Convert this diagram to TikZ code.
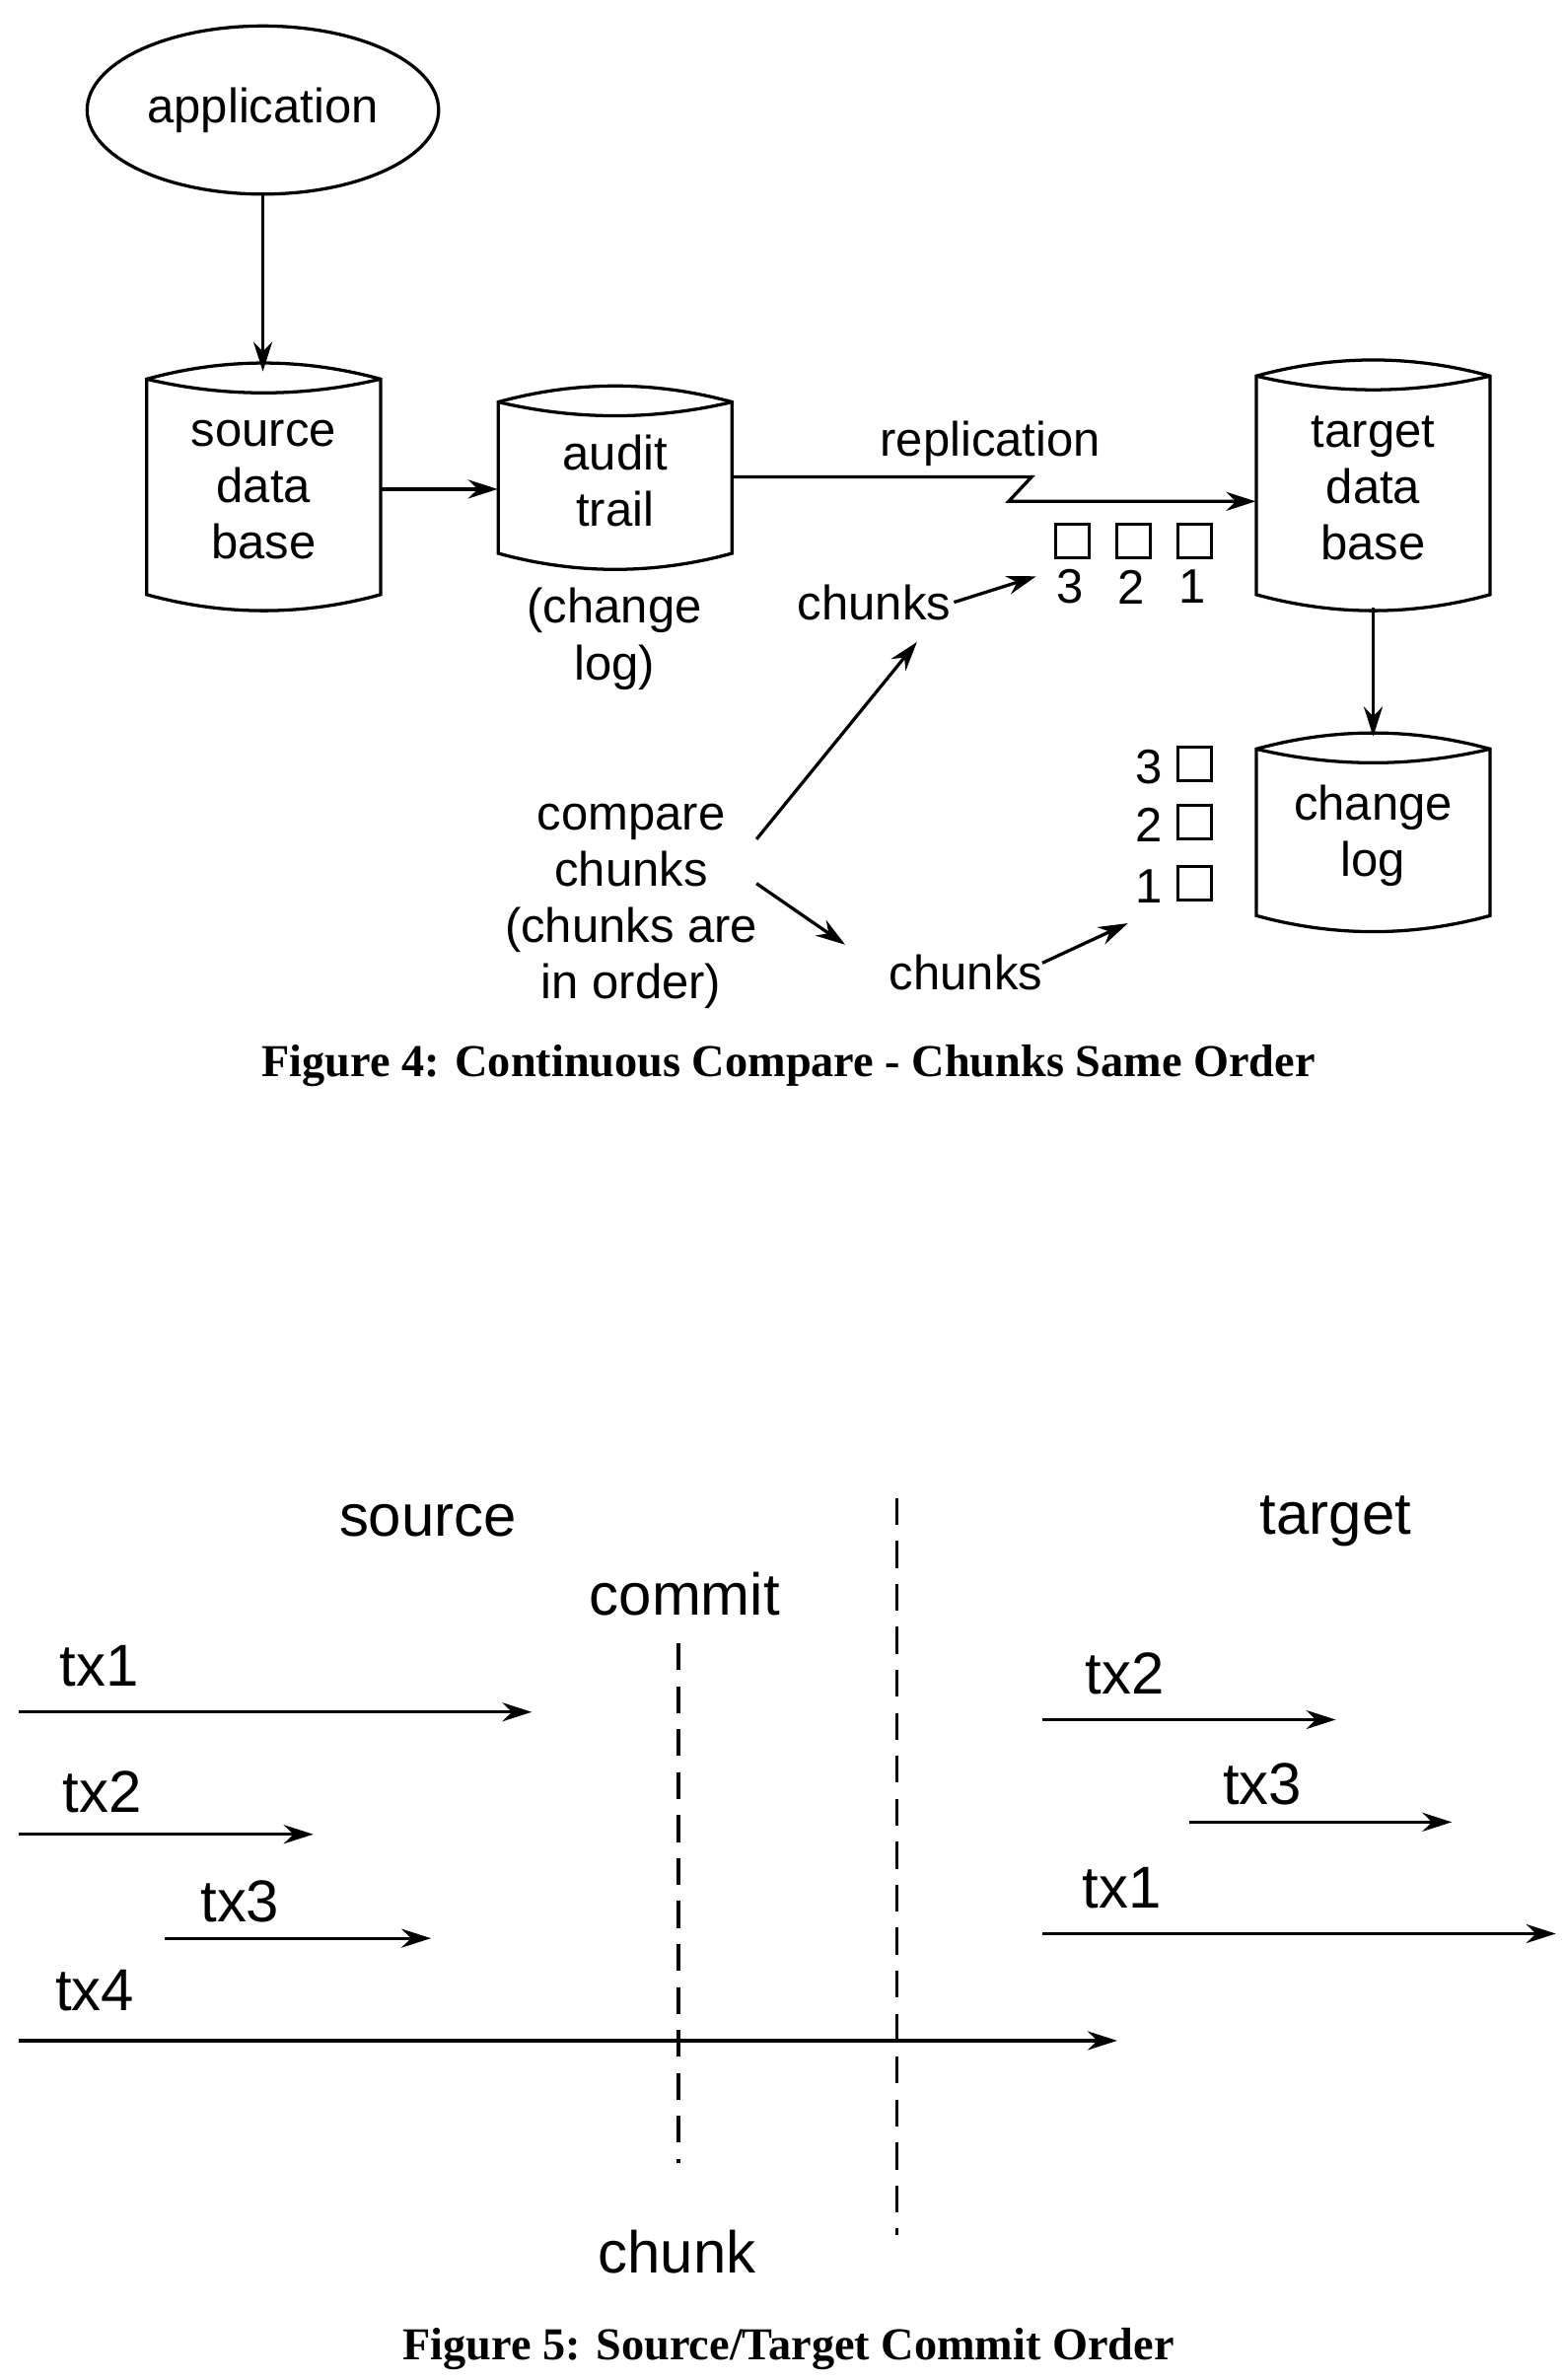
\documentclass[tikz,border=0pt]{standalone}
\usepackage{fontspec}
\setmainfont{Liberation Sans}
\newfontfamily\capfont{Liberation Serif}
\usetikzlibrary{arrows.meta,shapes.geometric}
\tikzset{
 lbl/.style={font=\fontsize{18}{21}\selectfont, align=center, inner sep=1pt},
 big/.style={font=\fontsize{22}{25}\selectfont, inner sep=1pt},
 figcap/.style={font=\capfont\bfseries\fontsize{17}{20}\selectfont},
 arr/.style={-{Stealth[length=11pt,width=7pt]}, line width=1.2pt},
 box/.style={draw, line width=1.1pt, minimum size=12.5pt, inner sep=0pt},
 cylbox/.style={draw=none, inner sep=0pt},
 ln/.style={line width=1.2pt},
 dsh/.style={line width=1.2pt, dash pattern=on 10pt off 6pt}
}
% #1 name, #2 left, #3 top, #4 right, #5 bottom, #6 text
\newcommand\mycyl[6]{%
 \draw[ln] (#2,#3+8) .. controls ({#2+(#4-#2)/3},#3-6) and ({#4-(#4-#2)/3},#3-6) .. (#4,#3+8)
   -- (#4,#5-8) .. controls ({#4-(#4-#2)/3},#5+6) and ({#2+(#4-#2)/3},#5+6) .. (#2,#5-8) -- cycle;
 \draw[ln] (#2,#3+8) .. controls ({#2+(#4-#2)/3},#3+20) and ({#4-(#4-#2)/3},#3+20) .. (#4,#3+8);
 \node[cylbox, lbl, minimum width={(#4-#2)*0.02cm}, minimum height={(#5-#3)*0.02cm}] (#1) at ({(#2+#4)/2},{(#3+#5)/2}) {};
 \node[lbl] (#1t) at ({(#2+#4)/2},{(#3+#5)/2+2}) {#6};}
\begin{document}
\begin{tikzpicture}[x=0.02cm,y=-0.02cm]
\useasboundingbox (0,0) rectangle (1024,1557);
% Figure 4
\node[draw, ellipse, line width=1.2pt, minimum width=230*0.02cm, minimum height=110*0.02cm, lbl] (app) at (172,72) {application};
\mycyl{src}{96}{240}{249}{397}{source\\data\\base}
\mycyl{aud}{326}{255}{479}{370}{audit\\trail}
\mycyl{tgt}{822}{238}{975}{397}{target\\data\\base}
\mycyl{clog}{822}{482}{975}{607}{change\\log}
\node[lbl] (cl) at (402,418) {(change\\log)};
\draw[arr] (app.south) -- (172,243);
\draw[arr] (src.east|-0,320) -- (aud.west|-0,320);
\draw[arr] (tgt.south) -- (clog.north);
\node[lbl] (rep) at (648,290) {replication};
\coordinate (z1) at (675,312); \coordinate (z2) at (660,328);
\draw[arr] (aud.east|-0,312) -- (z1) -- (z2) -- (tgt.west|-0,328);
\foreach \x/\n in {702/3,742/2,782/1}{
 \node[box] (s\n) at (\x,354) {};
 \node[lbl] (sn\n) at (\x-2,384) {\n};}
\foreach \y/\n in {500/3,538/2,578/1}{
 \node[box] (r\n) at (782,\y) {};
 \node[lbl] (rn\n) at (752,\y+2) {\n};}
\node[lbl] (ch1) at (572,394) {chunks};
\draw[arr] (ch1.east) -- (678,377);
\node[lbl] (cmp) at (413,593) {compare\\chunks\\(chunks are\\in order)};
\draw[arr] (495,549) -- (600,420);
\draw[arr] (495,578) -- (553,618);
\node[lbl] (ch2) at (632,636) {chunks};
\draw[arr] (682,630) -- (738,604);
\node[figcap] (c4) at (516,697) {Figure 4: Continuous Compare - Chunks Same Order};
% Figure 5
\node[big] (so) at (280,995) {source};
\node[big] (ta) at (874,995) {target};
\node[big] (co) at (448,1043) {commit};
\node[big] (chk) at (443,1473) {chunk};
\coordinate (d1a) at (444,1075); \coordinate (d1b) at (444,1415);
\coordinate (d2a) at (587,980); \coordinate (d2b) at (587,1462);
\draw[dsh] (d1a) -- (d1b);
\draw[dsh] (d2a) -- (d2b);
\node[big] (l1) at (65,1090) {tx1}; \coordinate (a1) at (12,1120); \coordinate (b1) at (348,1120);
\node[big] (l2) at (67,1172) {tx2}; \coordinate (a2) at (12,1200); \coordinate (b2) at (205,1200);
\node[big] (l3) at (157,1244) {tx3}; \coordinate (a3) at (108,1268); \coordinate (b3) at (282,1268);
\node[big] (l4) at (62,1302) {tx4}; \coordinate (a4) at (12,1335); \coordinate (b4) at (731,1335);
\node[big] (m2) at (736,1095) {tx2}; \coordinate (e2) at (682,1125); \coordinate (f2) at (874,1125);
\node[big] (m3) at (826,1167) {tx3}; \coordinate (e3) at (778,1192); \coordinate (f3) at (950,1192);
\node[big] (m1) at (734,1235) {tx1}; \coordinate (e1) at (682,1265); \coordinate (f1) at (1018,1265);
\foreach \p/\q in {a1/b1,a2/b2,a3/b3,a4/b4,e2/f2,e3/f3,e1/f1} \draw[arr] (\p) -- (\q);
\node[figcap] (c5) at (516,1537) {Figure 5: Source/Target Commit Order};
\end{tikzpicture}
\end{document}
